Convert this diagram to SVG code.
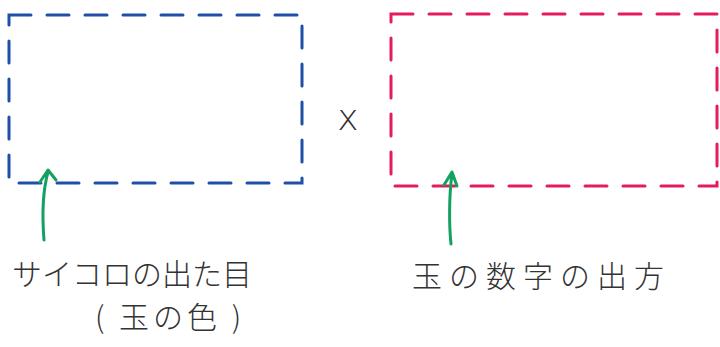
<svg xmlns="http://www.w3.org/2000/svg" width="720" height="347" viewBox="0 0 720 347">
<defs>
<style>
.box{fill:none;stroke-width:3;stroke-dasharray:22 16;stroke-linecap:round}
.blue{stroke:#1f4fa6}
.pink{stroke:#e31c5c}
.arrow{fill:none;stroke:#13a061;stroke-width:3;stroke-linecap:round;stroke-linejoin:round}
.lbl{font-family:"Noto Sans CJK JP","Noto Sans CJK SC",sans-serif;font-size:30px;fill:#333;font-weight:300}
</style>
</defs>
<rect width="720" height="347" fill="#fff"/>
<g id="dice-box"><rect class="box blue" x="9" y="15" width="293" height="168"/></g>
<g id="number-box"><rect class="box pink" x="391" y="14" width="326" height="172"/></g>
<g id="times"><text x="348" y="130" font-family="DejaVu Sans, sans-serif" font-size="36" font-weight="300" fill="#333" text-anchor="middle">x</text></g>
<g id="connectors">
<path class="arrow" d="M44,240 C42,215 43,190 48,172 M40,182 L48,170 L56,180"/>
<path class="arrow" d="M451,244 C449,225 449,195 452,174 M444,185 L452,172 L457,186"/>
</g>
<g id="label-dice">
<text class="lbl" x="12" y="285">サイコロの出た目</text>
<text class="lbl" x="95" y="328" letter-spacing="4">( 玉の色 )</text>
</g>
<g id="label-number"><text class="lbl" x="412" y="287" letter-spacing="7">玉の数字の出方</text></g>
</svg>
